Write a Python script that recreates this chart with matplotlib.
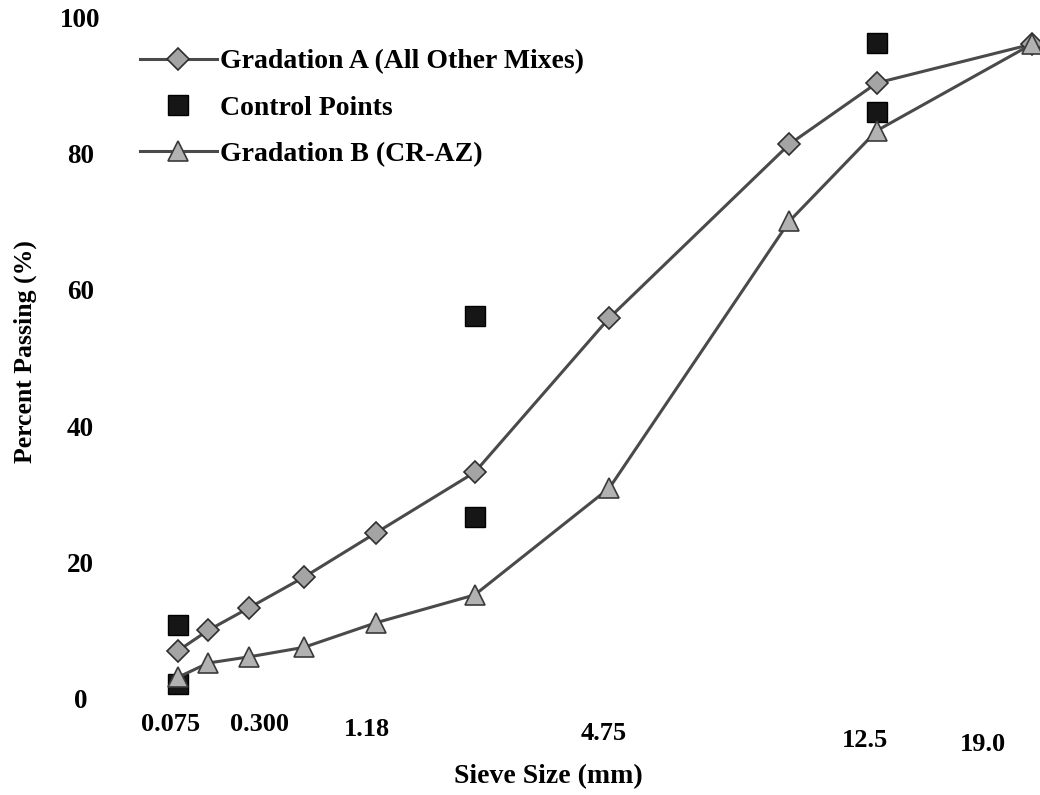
import numpy as np
import matplotlib
matplotlib.use("Agg")
import matplotlib.pyplot as plt
from matplotlib.transforms import ScaledTranslation

# ---- data ----
sieve_mm = [0.075, 0.15, 0.3, 0.6, 1.18, 2.36, 4.75, 9.5, 12.5, 19.0]
grad_a = [7.0, 10.0, 13.3, 17.8, 24.3, 33.2, 55.9, 81.4, 90.4, 96.1]
grad_b = [3.1, 5.2, 6.1, 7.5, 11.1, 15.2, 30.9, 70.1, 83.4, 96.1]
control_mm = [0.075, 0.075, 2.36, 2.36, 12.5, 12.5]
control_pct = [10.8, 2.1, 56.2, 26.6, 96.3, 86.2]
tick_mm = [0.075, 0.3, 1.18, 4.75, 12.5, 19.0]
tick_labels = ["0.075", "0.300", "1.18", "4.75", "12.5", "19.0"]
y_ticks = [0, 20, 40, 60, 80, 100]

plt.rcParams["font.family"] = ["Liberation Serif", "DejaVu Serif"]
plt.rcParams["font.weight"] = "bold"

fig = plt.figure(figsize=(10.4, 7.95), dpi=100)
ax = fig.add_axes([150 / 1040, 1 - 698.4 / 795, 890 / 1040, 680.8 / 795])

pw = 0.43  # power-scale exponent that fits the drawn sieve positions
ax.set_xscale("function", functions=(lambda x: np.power(np.clip(x, 1e-9, None), pw),
                                     lambda x: np.power(np.clip(x, 1e-9, None), 1 / pw)))
ax.set_xlim(0.22277 ** (1 / pw), 3.5775 ** (1 / pw))
ax.set_ylim(0, 100)

line_col = "#4a4a4a"
la, = ax.plot(sieve_mm, grad_a, color=line_col, lw=2.2, marker="D", ms=11,
              mfc="#a4a4a4", mec="#2e2e2e", mew=1.2, zorder=2, clip_on=False,
              label="Gradation A (All Other Mixes)")
cp, = ax.plot(control_mm, control_pct, ls="none", marker="s", ms=15,
              mfc="#161616", mec="#000000", mew=1.0, zorder=3, clip_on=False,
              label="Control Points")
lb, = ax.plot(sieve_mm, grad_b, color=line_col, lw=2.2, marker="^", ms=14,
              mfc="#b2b2b2", mec="#3a3a3a", mew=1.2, zorder=4, clip_on=False,
              label="Gradation B (CR-AZ)")

for s in ax.spines.values():
    s.set_visible(False)

ax.set_xticks(tick_mm)
ax.set_xticklabels(tick_labels)
ax.xaxis.set_minor_locator(matplotlib.ticker.NullLocator())
ax.set_yticks(y_ticks)
ax.tick_params(axis="both", length=0)
ax.tick_params(axis="x", pad=10.5, labelsize=19)
ax.tick_params(axis="y", pad=50, labelsize=19.5)
for lab in ax.get_yticklabels():
    lab.set_horizontalalignment("center")

# small per-label shifts as in the scanned original (pixels)
label_dx = [-7, 11, -9, -6, -12, -49]
label_dy = [0, 0, -5, -9, -16, -20]
for lab, dx, dy in zip(ax.get_xticklabels(), label_dx, label_dy):
    lab.set_transform(lab.get_transform() + ScaledTranslation(dx / 100, dy / 100, fig.dpi_scale_trans))

ax.set_xlabel("Sieve Size (mm)", fontsize=20, fontweight="bold")
ax.xaxis.set_label_coords((548 - 150) / 890, -(764 - 698.4) / 680.8)
ax.set_ylabel("Percent Passing (%)", fontsize=18.5, fontweight="bold")
ax.yaxis.set_label_coords((37 - 150) / 890, 0.51)

ax.legend(handles=[la, cp, lb], loc="upper left", frameon=False,
          bbox_to_anchor=(140 / 1040, 1 - 49 / 795), bbox_transform=fig.transFigure,
          fontsize=20, handlelength=2.77, handletextpad=0.12, labelspacing=0.75,
          borderpad=0, borderaxespad=0)

fig.savefig("out.png", dpi=100, facecolor="white")
